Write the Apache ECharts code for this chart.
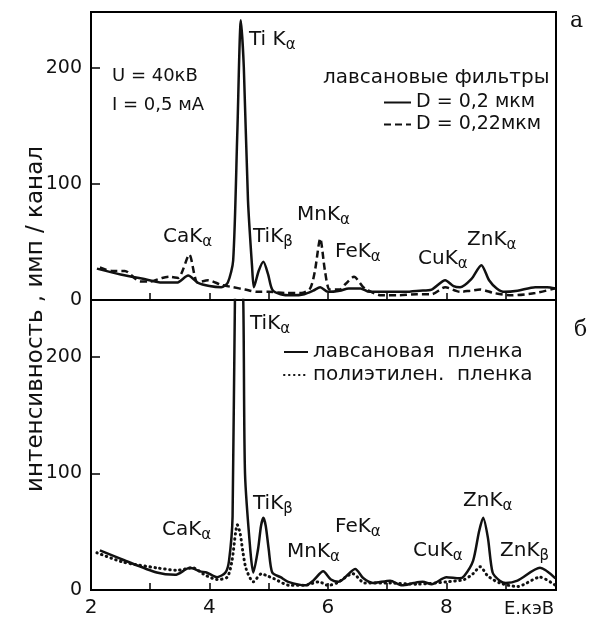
<!DOCTYPE html>
<html><head><meta charset="utf-8">
<script src="https://cdn.jsdelivr.net/npm/echarts@6/dist/echarts.min.js"></script>
<style>html,body{margin:0;padding:0;background:#fff}#c{width:589px;height:623px}</style>
</head><body><div id="c"></div>
<script>
// ---- data (energy keV, intensity counts/channel) ----
const topSolidE = [2.10,2.50,2.90,3.20,3.45,3.64,3.80,4.00,4.20,4.31,4.40,4.47,4.53,4.58,4.65,4.72,4.75,4.83,4.91,4.99,5.06,5.20,5.40,5.60,5.75,5.87,6.00,6.20,6.35,6.55,6.70,7.00,7.30,7.55,7.75,7.98,8.12,8.23,8.42,8.59,8.72,8.85,8.98,9.20,9.50,9.70,9.84];
const topSolidI = [27,22,18,15,15,21,15,12,11,15,34,144,241,200,86,28,11,25,33,22,9,5,4,5,8,11,7,8,10,10,7,7,7,8,9,17,12,11,18,30,17,10,7,8,11,11,10];

const topDashE = [2.15,2.35,2.57,2.83,3.00,3.20,3.33,3.47,3.66,3.80,3.98,4.20,4.40,4.60,4.80,5.00,5.30,5.55,5.70,5.78,5.87,5.95,6.03,6.20,6.30,6.44,6.58,6.65,6.90,7.20,7.50,7.75,7.98,8.23,8.40,8.57,8.80,9.10,9.50,9.84];
const topDashI = [28,25,25,16,16,19,20,19,39,15,17,13,11,9,7,7,6,6,10,25,53,25,9,9,14,20,12,9,4,4,5,5,11,7,8,9,6,4,6,10];

const botSolidE = [2.15,2.54,3.11,3.42,3.67,3.84,3.95,4.13,4.27,4.33,4.39,4.43,4.50,4.57,4.60,4.69,4.74,4.82,4.87,4.91,4.95,5.00,5.06,5.20,5.33,5.62,5.75,5.92,6.05,6.18,6.46,6.60,6.76,7.05,7.25,7.45,7.60,7.75,8.00,8.22,8.30,8.45,8.55,8.62,8.70,8.78,8.90,9.00,9.20,9.58,9.84];
const botSolidI = [34,26,15,13,19,16,15,11,15,25,63,250,340,250,100,34,15,35,55,62,55,35,15,11,7,4,8,16,9,7,18,10,6,8,4,6,7,5,11,10,12,25,50,62,45,15,8,6,8,19,10];

const botDotE = [2.10,2.54,3.11,3.45,3.72,3.92,4.13,4.30,4.38,4.44,4.47,4.52,4.56,4.62,4.74,4.88,4.98,5.08,5.35,5.60,5.85,6.00,6.15,6.42,6.62,7.05,7.50,8.00,8.30,8.45,8.57,8.70,8.90,9.20,9.58,9.84];
const botDotI = [32,24,19,17,19,13,9,11,25,49,56,48,34,18,7,14,12,10,4,4,7,4,6,14,6,6,5,7,9,14,20,12,6,3,11,4];

const xTickLabels = ['2','4','6','8'];
const yTickLabels = ['0','100','200'];

const topSeriesNames = ['D = 0,2 мкм','D = 0,22мкм'];
const botSeriesNames = ['лавсановая  пленка','полиэтилен.  пленка'];

// peak labels: [main, subscript]
const topPeakLabels = [['Ti K','α'],['CaK','α'],['TiK','β'],['MnK','α'],['FeK','α'],['CuK','α'],['ZnK','α']];
const botPeakLabels = [['TiK','α'],['CaK','α'],['TiK','β'],['MnK','α'],['FeK','α'],['CuK','α'],['ZnK','α'],['ZnK','β']];

// ---- layout ----
const FONT = 'DejaVu Sans';
const topLabelPos = [[249,40],[163,237],[253,237],[297,215],[335,252],[418,259],[467,240]];
const botLabelPos = [[250,324],[162,530],[253,504],[287,552],[335,527],[413,551],[463,501],[500,551]];

const pairs = (e, v) => e.map((x, i) => [x, v[i]]);
const chart = echarts.init(document.getElementById('c'), null, {renderer: 'canvas'});

function xAxis(gi, showLabels) {
  return {
    type: 'value', gridIndex: gi, min: 2, max: 9.85, interval: 1,
    axisLine: {show: true, onZero: false, lineStyle: {color: '#000', width: 2}},
    axisTick: {show: true, inside: true, length: 7, lineStyle: {color: '#000', width: 1.5}},
    splitLine: {show: false},
    axisLabel: {
      show: showLabels, fontFamily: FONT, fontSize: 20, color: '#111', margin: 8,
      formatter: v => xTickLabels.indexOf(String(v)) >= 0 ? String(v) : ''
    }
  };
}
function yAxis(gi, max) {
  return {
    type: 'value', gridIndex: gi, min: 0, max: max, interval: 100,
    axisLine: {show: true, lineStyle: {color: '#000', width: 2}},
    axisTick: {show: true, inside: true, length: 9, lineStyle: {color: '#000', width: 1.5}},
    splitLine: {show: false},
    axisLabel: {
      fontFamily: FONT, fontSize: 19, color: '#111', margin: 9, showMaxLabel: false,
      formatter: v => yTickLabels.indexOf(String(v)) >= 0 ? String(v) : ''
    }
  };
}

function peakText(lbl, pos) {
  return {
    type: 'text', x: pos[0], y: pos[1], silent: true,
    style: {
      text: '{m|' + lbl[0] + '}{s|' + lbl[1] + '}',
      verticalAlign: 'middle', textVerticalAlign: 'middle',
      rich: {
        m: {fontFamily: FONT, fontSize: 20, lineHeight: 26, fill: '#111', color: '#111'},
        s: {fontFamily: FONT, fontSize: 15, lineHeight: 14, verticalAlign: 'bottom', fill: '#111', color: '#111'}
      }
    }
  };
}
function plainText(t, x, y, size, family, extra) {
  return Object.assign({
    type: 'text', x: x, y: y, silent: true,
    style: {text: t, font: size + 'px "' + (family || FONT) + '"', fill: '#111',
            verticalAlign: 'middle', textVerticalAlign: 'middle'}
  }, extra || {});
}

const graphics = [];
topPeakLabels.forEach((l, i) => graphics.push(peakText(l, topLabelPos[i])));
botPeakLabels.forEach((l, i) => graphics.push(peakText(l, botLabelPos[i])));
graphics.push(plainText('U = 40кВ', 112, 76, 18));
graphics.push(plainText('I = 0,5 мА', 112, 105, 18));
graphics.push(plainText('лавсановые фильтры', 323, 78, 20));
graphics.push(plainText('E.кэВ', 504, 609, 18));
graphics.push(plainText('а', 570, 21, 22, 'DejaVu Serif'));
graphics.push(plainText('б', 574, 330, 22, 'DejaVu Serif'));
graphics.push({
  type: 'text', x: 36, y: 319, rotation: Math.PI / 2, silent: true,
  style: {text: 'интенсивность , имп / канал', font: '23px "' + FONT + '"', fill: '#111',
          align: 'center', textAlign: 'center', verticalAlign: 'middle', textVerticalAlign: 'middle'}
});

const lineBase = {type: 'line', showSymbol: false, symbol: 'none', smooth: 0.25, clip: true, silent: true};

chart.setOption({
  animation: false,
  backgroundColor: '#fff',
  grid: [
    {left: 91, right: 33, top: 12, height: 288, show: true, borderColor: '#000', borderWidth: 2, containLabel: false},
    {left: 91, right: 33, top: 300, height: 290, show: true, borderColor: '#000', borderWidth: 2, containLabel: false}
  ],
  xAxis: [xAxis(0, false), xAxis(1, true)],
  yAxis: [yAxis(0, 248), yAxis(1, 249)],
  legend: [
    {data: topSeriesNames, orient: 'vertical', left: 378, top: 88, itemWidth: 27, itemHeight: 12, itemGap: 3,
     selectedMode: false, itemStyle: {opacity: 0},
     textStyle: {fontFamily: FONT, fontSize: 19, color: '#111', lineHeight: 19}},
    {data: botSeriesNames, orient: 'vertical', left: 278, top: 337, itemWidth: 24, itemHeight: 12, itemGap: 3,
     selectedMode: false, itemStyle: {opacity: 0},
     textStyle: {fontFamily: FONT, fontSize: 20, color: '#111', lineHeight: 19}}
  ],
  series: [
    Object.assign({}, lineBase, {name: topSeriesNames[0], xAxisIndex: 0, yAxisIndex: 0, data: pairs(topSolidE, topSolidI),
      lineStyle: {color: '#111', width: 2.5}, itemStyle: {color: '#111'}}),
    Object.assign({}, lineBase, {name: topSeriesNames[1], xAxisIndex: 0, yAxisIndex: 0, data: pairs(topDashE, topDashI),
      lineStyle: {color: '#111', width: 2.5, type: [7, 4]}, itemStyle: {color: '#111'}}),
    Object.assign({}, lineBase, {name: botSeriesNames[0], xAxisIndex: 1, yAxisIndex: 1, data: pairs(botSolidE, botSolidI),
      lineStyle: {color: '#111', width: 2.5}, itemStyle: {color: '#111'}}),
    Object.assign({}, lineBase, {name: botSeriesNames[1], xAxisIndex: 1, yAxisIndex: 1, data: pairs(botDotE, botDotI),
      lineStyle: {color: '#111', width: 3, type: [0.5, 4.5], cap: 'round'}, itemStyle: {color: '#111'}})
  ],
  graphic: graphics
});
</script></body></html>
